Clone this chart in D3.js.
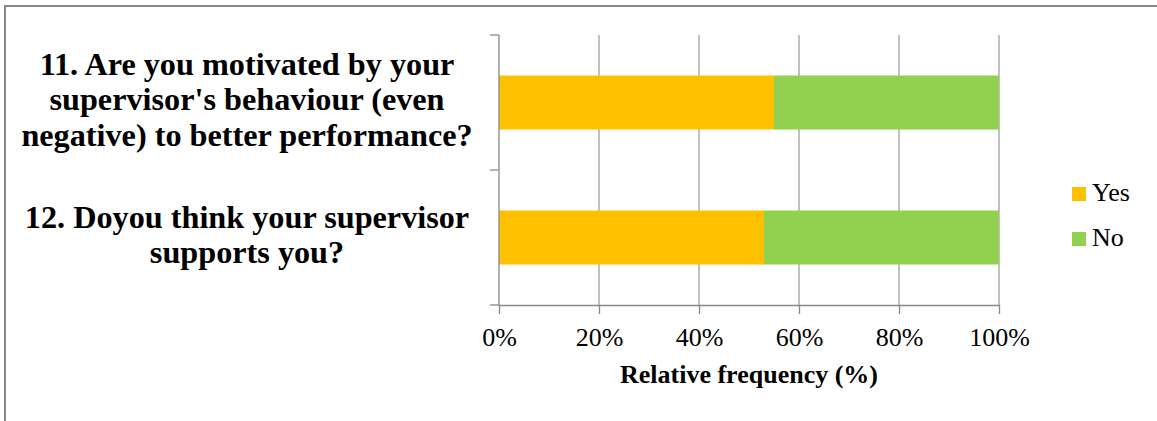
<!DOCTYPE html>
<html>
<head>
<meta charset="utf-8">
<script src="https://cdn.jsdelivr.net/npm/d3@7"></script>
<style>
  html, body { margin: 0; padding: 0; background: #fff; }
  svg { display: block; }
</style>
</head>
<body>
<svg id="chart" width="1157" height="421"></svg>
<script>
// Survey questions (each drawn as wrapped lines) and the share answering Yes / No
const questions = [
  ["11. Are you motivated by your", "supervisor's behaviour (even", "negative) to better performance?"],
  ["12. Doyou think your supervisor", "supports you?"]
];
const yesShare = [55, 53];
const noShare = [45, 47];
const seriesNames = ["Yes", "No"];
const seriesColors = ["#FFC000", "#92D050"];
const xTicks = [0, 20, 40, 60, 80, 100];
const xTitle = "Relative frequency (%)";

const svg = d3.select("#chart");
const serif = "'Liberation Serif', 'Times New Roman', serif";

// outer frame
svg.append("rect")
  .attr("x", 5).attr("y", 6).attr("width", 1200).attr("height", 500)
  .attr("fill", "none").attr("stroke", "#888").attr("stroke-width", 2);

const plot = { left: 499, right: 999, top: 35, bottom: 305 };

const x = d3.scaleLinear().domain([0, 100]).range([plot.left, plot.right]);
const y = d3.scaleBand().domain(d3.range(questions.length))
  .range([plot.top, plot.bottom]).paddingInner(0.6).paddingOuter(0.3);
const yBound = d3.scaleLinear().domain([0, questions.length]).range([plot.top, plot.bottom]);

// vertical gridlines
svg.append("g").selectAll("line").data(xTicks.slice(1)).join("line")
  .attr("x1", d => x(d)).attr("x2", d => x(d))
  .attr("y1", plot.top).attr("y2", plot.bottom)
  .attr("stroke", "#a0a0a0").attr("stroke-width", 1.3);

// stacked bars
const rows = questions.map((q, i) => ({ i, yes: yesShare[i], no: noShare[i] }));
const stack = d3.stack().keys(["yes", "no"])(rows);
svg.append("g").selectAll("g").data(stack).join("g")
  .attr("fill", (d, k) => seriesColors[k])
  .selectAll("rect").data(d => d).join("rect")
  .attr("x", d => x(d[0]))
  .attr("width", d => x(d[1]) - x(d[0]))
  .attr("y", d => y(d.data.i))
  .attr("height", y.bandwidth());

// left (category) axis
const leftAxis = svg.append("g").attr("stroke", "#888").attr("stroke-width", 1.3);
leftAxis.append("line")
  .attr("x1", plot.left).attr("x2", plot.left)
  .attr("y1", plot.top).attr("y2", plot.bottom);
leftAxis.selectAll("line.tick").data(d3.range(questions.length + 1)).join("line")
  .attr("class", "tick")
  .attr("x1", plot.left - 9).attr("x2", plot.left)
  .attr("y1", d => yBound(d)).attr("y2", d => yBound(d));

// bottom (value) axis
const bottomAxis = svg.append("g")
  .attr("transform", `translate(0,${plot.bottom})`)
  .call(d3.axisBottom(x).tickValues(xTicks).tickSize(9).tickSizeOuter(0)
    .tickFormat(d => d + "%"));
bottomAxis.select(".domain").attr("stroke", "#888").attr("stroke-width", 1.3);
bottomAxis.selectAll(".tick line").attr("stroke", "#888").attr("stroke-width", 1.3);
bottomAxis.selectAll(".tick text")
  .attr("y", 41).attr("dy", 0)
  .attr("font-family", serif).attr("font-size", 26).attr("fill", "#000");

// axis title
svg.append("text")
  .attr("x", x(50)).attr("y", 383)
  .attr("text-anchor", "middle")
  .attr("font-family", serif).attr("font-size", 26).attr("font-weight", "bold")
  .text(xTitle);

// category labels
const lineGap = 35.5;
const labelX = 247;
questions.forEach((lines, i) => {
  const cy = y(i) + y.bandwidth() / 2;
  const t = svg.append("text")
    .attr("transform", `translate(${labelX},0) scale(1.04,1)`)
    .attr("text-anchor", "middle")
    .attr("font-family", serif).attr("font-size", 31).attr("font-weight", "bold")
    .attr("fill", "#000");
  lines.forEach((ln, j) => {
    t.append("tspan")
      .attr("x", 0)
      .attr("y", cy + (j - (lines.length - 1) / 2) * lineGap + 8)
      .text(ln);
  });
});

// legend
const legend = svg.append("g").selectAll("g").data(seriesNames).join("g")
  .attr("transform", (d, k) => `translate(1072,${187 + k * 45})`);
legend.append("rect")
  .attr("width", 14).attr("height", 14)
  .attr("fill", (d, k) => seriesColors[k]);
legend.append("text")
  .attr("x", 20).attr("y", 14)
  .attr("font-family", serif).attr("font-size", 26).attr("fill", "#000")
  .text(d => d);
</script>
</body>
</html>
